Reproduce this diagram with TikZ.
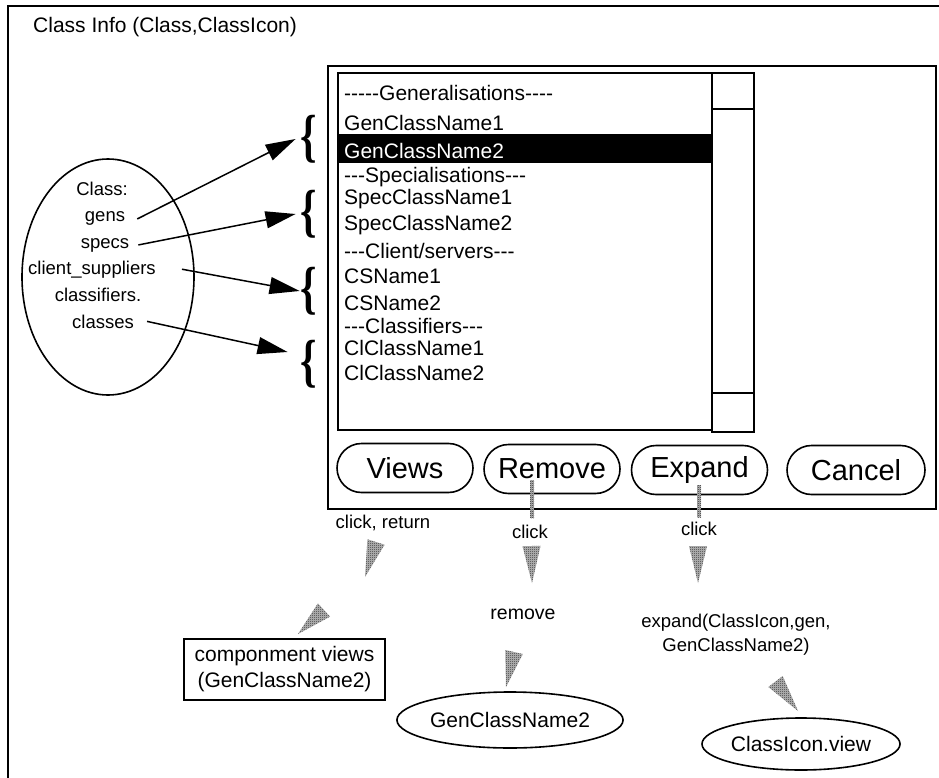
\documentclass[tikz,border=0pt]{standalone}
\usepackage{fontspec}
\usepackage{graphicx}
\setmainfont{Liberation Sans}
\newfontfamily\arial{Liberation Sans}
\newfontfamily\serifbr{Liberation Serif}
\usetikzlibrary{positioning,arrows.meta,shapes.geometric,shapes.misc,calc,patterns}

% fine 1pt checker, like the stippled grey of the drawing
\pgfdeclarepatternformonly{finechecker}{\pgfpointorigin}{\pgfqpoint{2pt}{2pt}}{\pgfqpoint{2pt}{2pt}}{%
  \pgfpathrectangle{\pgfpointorigin}{\pgfqpoint{1pt}{1pt}}%
  \pgfpathrectangle{\pgfqpoint{1pt}{1pt}}{\pgfqpoint{1pt}{1pt}}%
  \pgfusepath{fill}}

% gray wedge: base point, tip point, half width
\newcommand{\wedgearr}[3]{%
  \fill[hatch] ($(#1)!#3!90:(#2)$) -- (#2) -- ($(#1)!#3!-90:(#2)$) -- cycle;}

\begin{document}
\begin{tikzpicture}[
        x=1pt, y=-1pt,
        lw/.style={line width=1.6pt},
        txt/.style={font=\arial\fontsize{21}{26}\selectfont, inner sep=0pt},
        small/.style={font=\arial\fontsize{18.5}{24}\selectfont, inner sep=0pt},
        btn/.style={draw, lw, rounded rectangle, minimum width=136pt, minimum height=49pt,
                    inner sep=0pt, font=\arial\fontsize{29}{32}\selectfont},
        oval/.style={txt, draw, lw, ellipse},
        arr/.style={line width=1.5pt, -{Triangle[length=30pt,width=17pt]}},
        hatch/.style={fill=gray!55, postaction={pattern=finechecker, pattern color=black!80}},
        brace/.style={font=\serifbr\bfseries\fontsize{58}{58}\selectfont, inner sep=0pt}
    ]
        \useasboundingbox (0,0) rectangle (939,778);
        % outer frame (only top and left edges show)
        \draw[lw] (8,778) -- (8,6) -- (939,6);
        \node[txt, anchor=base west] (title) at (33,33) {Class Info (Class,ClassIcon)};

        % dialog window, list box and scroll bar
        \node[draw, lw, anchor=north west, minimum width=608pt, minimum height=443pt] (dlg) at (327,65) {};
        \draw[lw] (338,73) rectangle (712,430);
        \draw[lw] (712,73) rectangle (754,432);
        \draw[lw] (712,109) -- (754,109);
        \draw[lw] (712,393) -- (754,393);
        \fill (338,134) rectangle (712,163);
        \foreach \txt/\yy/\col [count=\i] in {%
            -----Generalisations----/100.5/black, GenClassName1/130.5/black,
            GenClassName2/158.5/white, ---Specialisations---/182.5/black,
            SpecClassName1/204.5/black, SpecClassName2/230.5/black,
            {---Client/servers---}/258.5/black, CSName1/283.5/black,
            CSName2/310.5/black, ---Classifiers---/333.5/black,
            ClClassName1/355.5/black, ClClassName2/380.5/black%
        }{
            \node[txt, text=\col, anchor=base west] (item\i) at (344,\yy) {\txt};
        }

        % class ellipse with its attributes
        \node[draw, lw, ellipse, minimum width=172pt, minimum height=236pt] (classel) at (108,277) {};
        \foreach \nm/\txt/\xx/\yy in {%
            cls/Class:/102/196, gens/gens/105/222, specs/specs/105/248,
            clsup/client\_suppliers/92/274, clsf/classifiers./98/301, clss/classes/103/328%
        }{
            \node[small, anchor=base] (\nm) at (\xx,\yy) {\txt};
        }
        \foreach \i/\yy in {1/139, 2/214, 3/291, 4/364}
            \node[brace] (br\i) at (309,\yy) {\scalebox{0.72}[1]{\{}};
        \draw[arr] ([xshift=12pt]gens.east)  -- ([xshift=-5pt]br1.west);
        \draw[arr] ([xshift=9pt]specs.east)  -- ([xshift=-5pt]br2.west);
        \draw[arr] ([xshift=26pt]clsup.east) -- ([xshift=-1pt]br3.west);
        \draw[arr] ([xshift=13pt]clss.east)  -- ([xshift=-13pt,yshift=12pt]br4.west);

        % buttons
        \node[btn] (views)  at (405,468)   {Views};
        \node[btn] (remove) at (552,469)   {Remove};
        \node[btn] (expand) at (699.5,470) {Expand};
        \node[btn, minimum width=138pt] (cancel) at (856,470) {Cancel};

        % events and results
        \node[small] (clickv) at (383,523) {click, return};
        \node[small] (clickr) at (530,532) {click};
        \node[small] (clicke) at (699,529) {click};
        \coordinate (rtop) at (532,480);
        \coordinate (etop) at (699,485);
        \fill[hatch] ([xshift=-2pt]rtop) rectangle ++(4,38);
        \fill[hatch] ([xshift=-2pt]etop) rectangle ++(4,32);
        \node[small, font=\arial\fontsize{19.5}{24}\selectfont] (rmtxt) at (523,614) {remove};
        \node[small, align=center] (extxt) at (736,635) {expand(ClassIcon,gen,\\GenClassName2)};
        \node[txt, draw, lw, align=center, minimum width=201pt, minimum height=61pt] (cview)
              at (284.5,669.5) {componment views\\(GenClassName2)};
        \node[oval, minimum width=196pt, minimum height=56pt] (remel) at (510,720) {GenClassName2};
        \node[oval, minimum width=188pt, minimum height=52pt] (civ)   at (801,744) {ClassIcon.view};

        % gray wedges
        \foreach \bx/\by/\tx/\ty in {%
            376/542/365/577, 324/610/298/634, 531.5/546/532/583,
            514/652/506/687, 698/546/698/583, 775.5/681.5/798/711%
        }{
            \wedgearr{\bx,\by}{\tx,\ty}{9pt}
        }
    \end{tikzpicture}
\end{document}
